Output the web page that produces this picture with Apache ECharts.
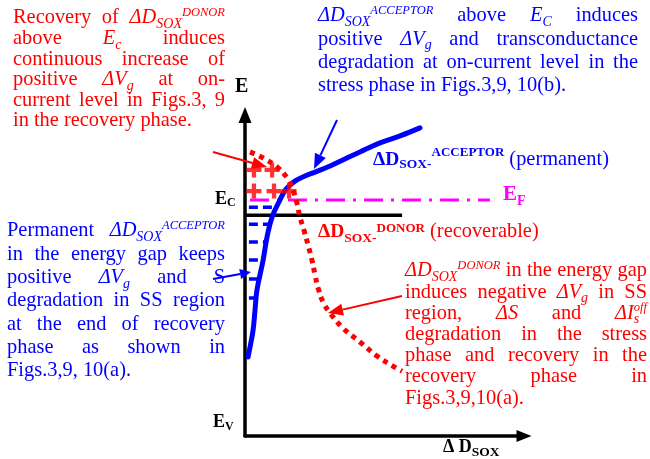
<!DOCTYPE html>
<html><head><meta charset="utf-8">
<script src="https://cdn.jsdelivr.net/npm/echarts@6/dist/echarts.min.js"></script>
<style>html,body{margin:0;padding:0;background:#fff}#c{width:650px;height:459px}</style>
</head><body><div id="c"></div>
<script>
// ---------- data (axis units: ΔD_SOX 0..100, E 0..100) ----------
const acceptorCurve = [[1.1,24.6],[1.8,27.7],[2.9,33.0],[3.6,39.3],[4.3,45.5],[6.5,54.8],[7.9,62.0],[9.7,68.2],[12.5,73.5],[14.7,76.9],[17.9,79.4],[21.5,81.0],[25.1,82.2],[30.5,84.1],[35.8,86.3],[41.2,88.5],[48.4,91.3],[55.6,93.5],[62.7,96.0]];
const donorCurve = [[1.8,88.5],[6.5,86.6],[11.5,83.8],[15.1,80.4],[17.2,76.6],[18.6,72.6],[19.7,68.2],[21.1,64.2],[22.6,59.5],[24.0,54.8],[25.1,50.2],[26.2,46.1],[28.0,41.7],[30.5,38.3],[35.1,33.6],[41.2,29.3],[47.3,24.9],[53.0,21.8],[56.3,20.2]];
const ecLevel = [[0,68.8],[56.3,68.8]];
const efLevel = [[1.8,73.5],[87.8,73.5]];
const acceptorGapLevels = [71.3,66.0,60.4,54.8,48.9,43.0];   // E of trapped acceptor states
const acceptorGapEnds   = [10.8,8.6,7.2,6.1,5.0,3.9];         // ΔD_SOX where each level meets the curve
const donorCharges = [[3.2,82.9],[9.7,82.9],[3.2,76.3],[10.4,76.3],[15.8,76.3]];

// ---------- annotation texts ----------
const textTopLeft = ['Recovery of #DD','above #Ec induces','continuous increase of','positive #Vg at on-','current level in Figs.3, 9','in the recovery phase.'];
const textTopRight = ['#DA above #EC induces','positive #Vg and transconductance','degradation at on-current level in the','stress phase in Figs.3,9, 10(b).'];
const textLeft = ['Permanent #DA','in the energy gap keeps','positive #Vg and S','degradation in SS region','at the end of recovery','phase as shown in','Figs.3,9, 10(a).'];
const textRight = ['#DD in the energy gap','induces negative #Vg in SS','region, #dS and #Is','degradation in the stress','phase and recovery in the','recovery phase in','Figs.3,9,10(a).'];

const RED='#ff0000', BLUE='#0000ff', MAG='#ff00ff', BLACK='#000000';
const FF='"Liberation Serif","Times New Roman",serif';
const mctx=document.createElement('canvas').getContext('2d');
function fnt(s){return (s.it?'italic ':'')+(s.b?'bold ':'')+s.size+'px '+FF;}
function mw(s){mctx.font=fnt(s);return mctx.measureText(s.t).width;}

const ST={
  n:{size:20.4}, i:{size:20.4,it:true},
  sub:{size:14,it:true,dy:4}, sup:{size:12.5,it:true,dy:-8}
};
const SPECIAL={
  '#DD':[['ΔD','i'],['SOX','sub'],['DONOR','sup']],
  '#DA':[['ΔD','i'],['SOX','sub'],['ACCEPTOR','sup']],
  '#Ec':[['E','i'],['c','sub']],
  '#EC':[['E','i'],['C','sub']],
  '#Vg':[['ΔV','i'],['g','sub']],
  '#dS':[['ΔS','i']],
  '#Is':[['ΔI','i'],['s','sub'],['off','sup',true]]
};
function tokenSegs(w){
  if(SPECIAL[w]) return SPECIAL[w].map(a=>Object.assign({t:a[0],stack:!!a[2]},ST[a[1]]));
  return [Object.assign({t:w},ST.n)];
}
const els=[];
function placeRun(x,base,segs,color){
  let cur=x, prevStart=x;
  segs.forEach(s=>{
    const w=mw(s);
    let sx = s.stack ? prevStart : cur;
    els.push({type:'text',x:sx,y:base+(s.dy||0)-0.34*s.size,silent:true,z:50,
      style:{text:s.t,font:fnt(s),fill:s.color||color,align:'left',verticalAlign:'middle',textAlign:'left',textVerticalAlign:'middle'}});
    prevStart=sx;
    cur=Math.max(cur,sx+w);
  });
  return cur-x;
}
function runWidth(segs){let cur=0,prev=0;segs.forEach(s=>{const w=mw(s);const sx=s.stack?prev:cur;prev=sx;cur=Math.max(cur,sx+w);});return cur;}
function paragraph(lines,x0,x1,base0,lh,color){
  const spaceW=mw(Object.assign({t:' '},ST.n));
  lines.forEach((line,li)=>{
    const words=line.split(' ').map(tokenSegs);
    const widths=words.map(runWidth);
    const total=widths.reduce((a,b)=>a+b,0);
    const last=li===lines.length-1;
    const gap=(last||words.length<2)?spaceW:(x1-x0-total)/(words.length-1);
    let x=x0;
    words.forEach((segs,i)=>{placeRun(x,base0+li*lh,segs,color);x+=widths[i]+gap;});
  });
}
paragraph(textTopLeft,13,225,25,20.6,RED);
paragraph(textTopRight,318,638,23,23.3,BLUE);
paragraph(textLeft,7,225,238,23.3,BLUE);
paragraph(textRight,405,647,278,21.2,RED);

// curve labels
placeRun(373,167,[{t:'ΔD',size:19.5,b:true},{t:'SOX-',size:13.5,b:true,dy:2},{t:'ACCEPTOR',size:13,b:true,dy:-10},{t:' (permanent)',size:20.4}],BLUE);
placeRun(318,239,[{t:'ΔD',size:19.5,b:true},{t:'SOX-',size:13.5,b:true,dy:4},{t:'DONOR',size:13,b:true,dy:-6},{t:' (recoverable)',size:20.4}],RED);
placeRun(503,202,[{t:'E',size:21,b:true},{t:'F',size:14,b:true,dy:4}],MAG);
placeRun(235,94,[{t:'E',size:20,b:true}],BLACK);
placeRun(215,205,[{t:'E',size:18,b:true},{t:'C',size:12,b:true,dy:2}],BLACK);
placeRun(213,428,[{t:'E',size:18,b:true},{t:'V',size:12,b:true,dy:3}],BLACK);
placeRun(443,453,[{t:'Δ ',size:18,b:true},{t:'D',size:18,b:true},{t:'SOX',size:13.5,b:true,dy:4}],BLACK);

function arrow(x1,y1,x2,y2,color,lw,hl,hw){
  const dx=x2-x1,dy=y2-y1,L=Math.hypot(dx,dy),ux=dx/L,uy=dy/L;
  const bx=x2-ux*hl,by=y2-uy*hl;
  els.push({type:'line',silent:true,z:60,shape:{x1:x1,y1:y1,x2:bx,y2:by},style:{stroke:color,lineWidth:lw}});
  els.push({type:'polygon',silent:true,z:60,shape:{points:[[x2,y2],[bx-uy*hw,by+ux*hw],[bx+uy*hw,by-ux*hw]]},style:{fill:color}});
}
arrow(213,152,267,167,RED,2,15,6);
arrow(337,120,314,169,BLUE,2,15,6);
arrow(213,279,251,272,BLUE,2,11,5);
arrow(402,296,328,313,RED,2,15,6);

// ---------- chart ----------
const series=[];
series.push({type:'line',data:ecLevel,symbol:'none',silent:true,z:3,lineStyle:{color:BLACK,width:3.5}});
series.push({type:'line',data:efLevel,symbol:'none',silent:true,z:3,lineStyle:{color:MAG,width:3,type:[19,8,3,8]}});
acceptorGapLevels.forEach((e,i)=>{
  series.push({type:'line',data:[[1.4,e],[acceptorGapEnds[i],e]],symbol:'none',silent:true,z:4,lineStyle:{color:BLUE,width:3.5,type:[9,5],cap:'butt'}});
});
series.push({type:'line',data:acceptorCurve,smooth:0.4,symbol:'none',silent:true,z:5,lineStyle:{color:BLUE,width:5,cap:'round'}});
series.push({type:'line',data:donorCurve,smooth:0.4,symbol:'none',silent:true,z:6,lineStyle:{color:RED,width:5,type:[5,5],cap:'butt'}});
series.push({type:'scatter',data:donorCharges,symbol:'path://M5,0H9V5H14V9H9V14H5V9H0V5H5Z',symbolSize:15,silent:true,z:7,itemStyle:{color:RED}});

const axisCommon={type:'value',min:0,max:100,axisTick:{show:false},axisLabel:{show:false},splitLine:{show:false}};
const chart=echarts.init(document.getElementById('c'),null,{renderer:'canvas'});
chart.setOption({
  animation:false,
  backgroundColor:'#ffffff',
  grid:{left:245,right:126,top:115,bottom:23},
  xAxis:Object.assign({},axisCommon,{axisLine:{show:true,onZero:false,symbol:['none','triangle'],symbolSize:[12,15],lineStyle:{color:BLACK,width:3.5}}}),
  yAxis:Object.assign({},axisCommon,{axisLine:{show:true,onZero:false,symbol:['none','triangle'],symbolSize:[13,16],lineStyle:{color:BLACK,width:3.5}}}),
  series:series,
  graphic:{elements:els}
});
</script></body></html>
